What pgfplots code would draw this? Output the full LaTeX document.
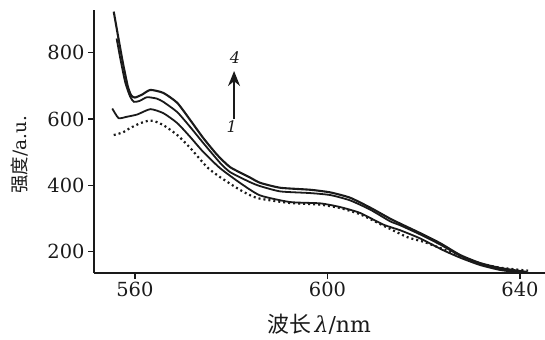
\documentclass[border=0pt]{standalone}
\usepackage{fontspec}
\setmainfont{DejaVu Serif}
\newfontfamily\cjk{Noto Sans CJK SC}
\usepackage{pgfplots}
\pgfplotsset{compat=1.18}
\usetikzlibrary{arrows.meta}
\definecolor{ink}{HTML}{1A1A1A}
\begin{document}
\begin{tikzpicture}
\useasboundingbox (0,0) rectangle (545bp,340bp);
\begin{axis}[
  at={(94bp,67bp)}, anchor=south west,
  scale only axis, width=451bp, height=263bp,
  xmin=551.5, xmax=645.2, ymin=136, ymax=929,
  axis x line=bottom, axis y line=left,
  axis line style={-, line width=1.5bp, ink},
  xtick={560,600,640}, ytick={200,400,600,800},
  tick align=outside, major tick length=6bp,
  tick style={line width=1.4bp, ink},
  /pgf/number format/assume math mode=true,
  /pgf/number format/1000 sep={},
  ticklabel style={font=\fontsize{19.5}{22}\selectfont, text=ink},
  xlabel={{\cjk 波长}\,{\itshape λ}/nm},
  ylabel={{\cjk 强度}/a.u.},
  xlabel style={at={(axis description cs:0.499,-0.194)}, anchor=center, font=\fontsize{22}{24}\selectfont, text=ink},
  ylabel style={at={(axis description cs:-0.164,0.449)}, anchor=center, font=\fontsize{18.5}{20}\selectfont, text=ink},
  clip=false,
  every axis plot/.append style={smooth, tension=0.35},
]
\addplot[ink, line width=2.1bp] coordinates {
(555.6,924) (556.5,850) (557.5,770) (558.5,700) (559.2,672) (560.0,665)
(561.5,674) (563.2,688) (565.9,679) (568.8,649) (571.5,597) (574.2,543)
(577.1,492) (579.8,455) (583.9,424) (586.0,408) (590.2,393) (596.4,387)
(600.6,379) (604.7,363) (608.9,333) (613.0,300) (615.1,285) (619.3,256)
(623.4,226) (627.6,190) (631.7,166) (635.9,151) (641.5,139)
};
\addplot[ink, line width=1.8bp] coordinates {
(556.2,843) (557.0,780) (558.0,710) (559.0,668) (559.8,652) (561.0,655)
(562.5,666) (564.5,662) (565.9,652) (568.8,621) (571.5,576) (574.2,528)
(577.7,468) (579.8,440) (583.9,410) (586.0,398) (590.2,382) (596.4,377)
(600.6,371) (604.7,355) (608.9,327) (613.0,292) (615.1,280) (619.3,252)
(623.4,222) (627.6,188) (631.7,164) (635.9,149) (641.5,137)
};
\addplot[ink, line width=1.8bp] coordinates {
(555.3,632) (556.6,603) (558.3,607) (560.5,614) (563.2,630) (565.9,618)
(568.8,588) (571.5,546) (574.2,501) (577.7,452) (581.9,407) (586.0,370)
(592.2,350) (598.5,346) (602.6,335) (606.8,317) (611.6,282) (615.1,265)
(619.3,240) (624.0,205) (627.6,182) (631.7,160) (635.9,145) (640.7,136)
};
\addplot[ink, line width=2.2bp, dash pattern=on 2bp off 3bp] coordinates {
(555.6,552) (557.5,560) (559.0,573) (561.0,587) (562.5,594) (563.8,595)
(565.9,582) (568.8,552) (571.5,513) (575.0,455) (577.7,425) (581.9,386)
(585.4,362) (592.2,347) (598.5,342) (602.6,332) (606.8,313) (611.6,279)
(616.6,244) (620.0,230) (624.0,208) (627.6,186) (631.7,165) (635.9,152)
(641.7,143)
};
\draw[ink, line width=1.6bp, -{Stealth[length=15bp,width=12bp]}] (axis cs:580.6,600) -- (axis cs:580.6,745);
\node[text=ink, font=\fontsize{16}{17}\selectfont\itshape] at (axis cs:580.8,787) {4};
\node[text=ink, font=\fontsize{16}{17}\selectfont\itshape] at (axis cs:580.1,578) {1};
\end{axis}
\end{tikzpicture}
\end{document}
